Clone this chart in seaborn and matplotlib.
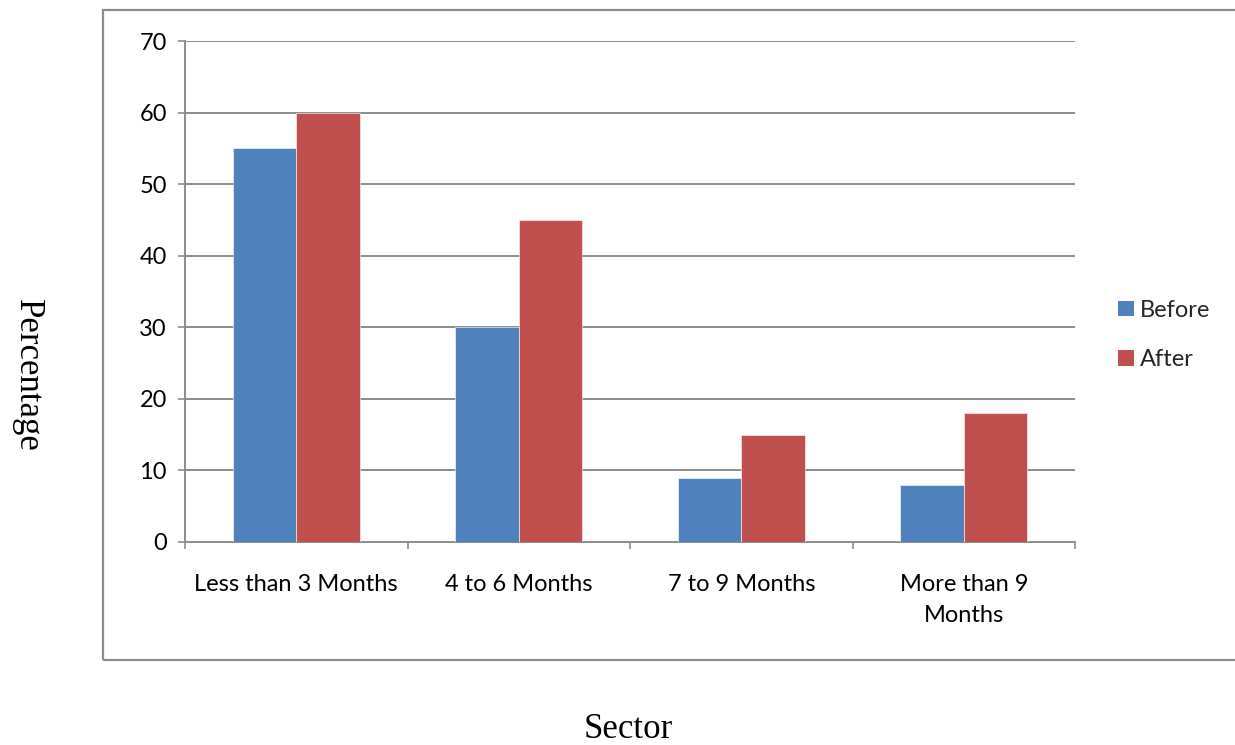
import matplotlib
matplotlib.use("Agg")
import matplotlib.pyplot as plt
from matplotlib.patches import Rectangle, Patch
from matplotlib.ticker import FixedLocator
import seaborn as sns
import pandas as pd

categories = ["Less than 3 Months", "4 to 6 Months", "7 to 9 Months", "More than 9\nMonths"]
before = [55, 30, 9, 8]
after = [60, 45, 15, 18]
series_names = ["Before", "After"]
colors = ["#4F81BD", "#C0504D"]
y_ticks = [0, 10, 20, 30, 40, 50, 60, 70]

df = pd.DataFrame({
    "Sector": categories * 2,
    "Percentage": before + after,
    "Period": [series_names[0]] * len(categories) + [series_names[1]] * len(categories),
})

sns.set_theme(style="white")
plt.rcParams["font.family"] = ["Lato", "DejaVu Sans"]

W, H = 1235, 745
fig = plt.figure(figsize=(W / 100, H / 100), dpi=100)
fig.patch.set_facecolor("white")

# outer chart frame
frame = Rectangle((103 / W, 1 - 660 / H), 1.2, (660 - 10) / H, transform=fig.transFigure,
                  fill=False, edgecolor="#8c8c8c", linewidth=1.6, zorder=0)
fig.patches.append(frame)

ax = fig.add_axes([185 / W, 1 - 542 / H, (1075 - 185) / W, (542 - 41) / H])

sns.barplot(data=df, x="Sector", y="Percentage", hue="Period", palette=colors,
            width=0.57, gap=0, saturation=1, ax=ax, legend=False,
            edgecolor="white", linewidth=0.4, zorder=3)

ax.set_ylim(0, 70)
ax.set_xlim(-0.5, len(categories) - 0.5)
ax.set_yticks(y_ticks)
grid_c = "#8c8c8c"
for v in y_ticks[1:]:
    ax.axhline(v, color=grid_c, linewidth=1.4, zorder=1)

for s in ["top", "right"]:
    ax.spines[s].set_visible(False)
for s in ["left", "bottom"]:
    ax.spines[s].set_color(grid_c)
    ax.spines[s].set_linewidth(1.4)

fs = 17
ax.tick_params(axis="y", direction="out", length=5, width=1.2, color=grid_c,
               labelsize=fs, pad=8, left=True, labelcolor="black")
ax.tick_params(axis="x", which="major", length=0, labelsize=fs, pad=23, labelcolor="black")
ax.xaxis.set_minor_locator(FixedLocator([i - 0.5 for i in range(len(categories) + 1)]))
ax.tick_params(axis="x", which="minor", direction="out", length=5, width=1.2, color=grid_c, bottom=True)
for lbl in ax.get_xticklabels():
    lbl.set_linespacing(1.6)

ax.set_xlabel("")
ax.set_ylabel("")

fig.text(628 / W, 1 - 729 / H, "Sector", family="Liberation Serif", fontsize=25,
         ha="center", va="center", color="black")
fig.text(27 / W, 1 - 375 / H, "Percentage", family="Liberation Serif", fontsize=25,
         ha="center", va="center", rotation=270, color="black")

handles = [Patch(facecolor=c, edgecolor="none", label=n) for c, n in zip(colors, series_names)]
fig.legend(handles=handles, loc="center left", bbox_to_anchor=(1097 / W, 1 - 335 / H),
           frameon=False, fontsize=fs, handlelength=0.65, handleheight=0.65,
           handletextpad=0.25, labelspacing=1.2)

fig.savefig("out.png", dpi=100, facecolor="white")
